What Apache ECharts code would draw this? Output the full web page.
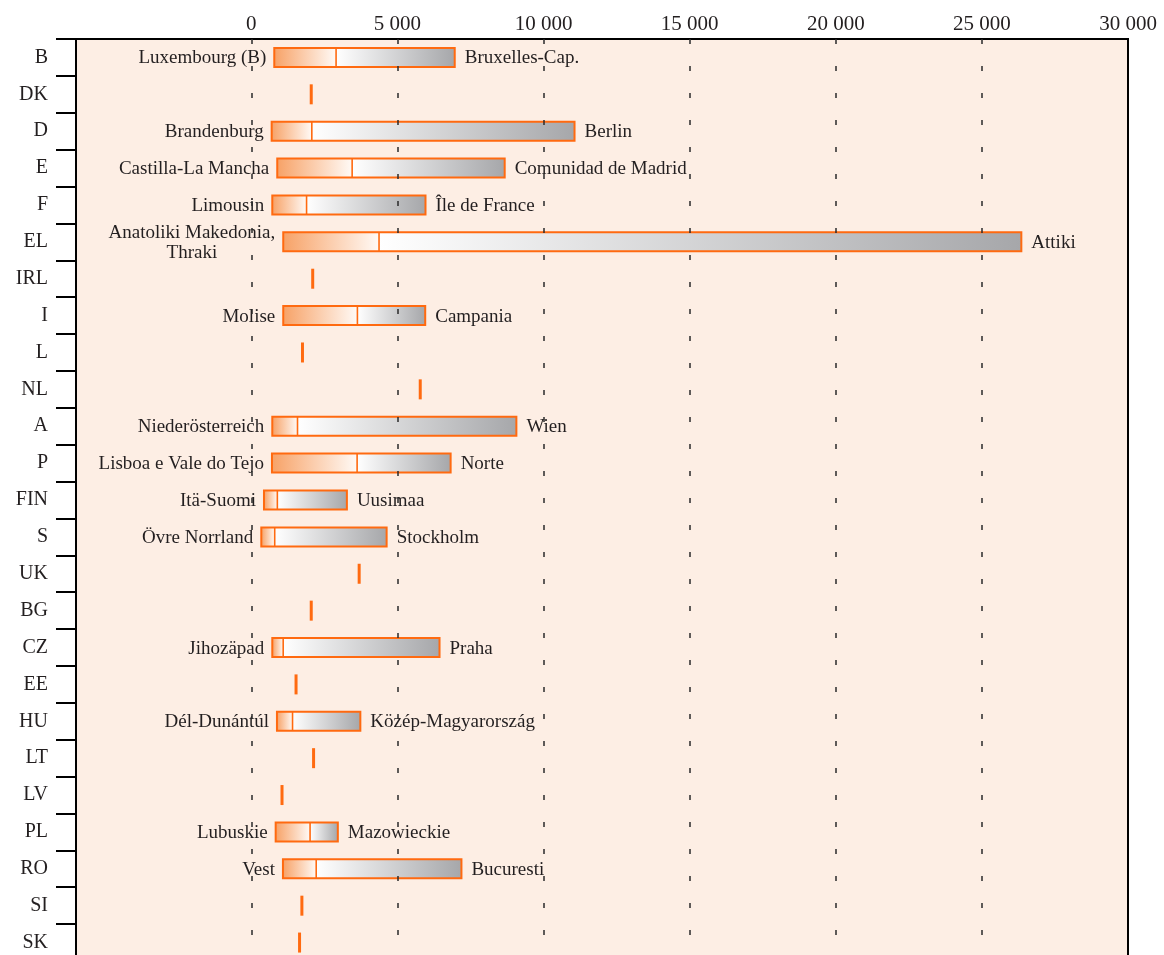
<!DOCTYPE html>
<html>
<head>
<meta charset="utf-8">
<script src="https://cdn.jsdelivr.net/npm/echarts@6/dist/echarts.min.js"></script>
<style>
  html, body { margin: 0; padding: 0; background: #ffffff; }
  #chart { width: 1164px; height: 955px; }
</style>
</head>
<body>
<div id="chart"></div>
<script>
// Regional spread per country: lowest region, national level, highest region
const categories = ['B', 'DK', 'D', 'E', 'F', 'EL', 'IRL', 'I', 'L', 'NL', 'A', 'P', 'FIN', 'S', 'UK',
  'BG', 'CZ', 'EE', 'HU', 'LT', 'LV', 'PL', 'RO', 'SI', 'SK'];
const nationalValue = [2900, 2050, 2070, 3450, 1890, 4370, 2100, 3630, 1750, 5780, 1580, 3620, 890, 800, 3690,
  2050, 1090, 1530, 1410, 2130, 1050, 2010, 2220, 1730, 1650];
const lowestValue = [785, null, 696, 887, 717, 1092, null, 1092, null, null, 717, 706, 433, 341, null,
  null, 717, null, 877, null, null, 833, 1082, null, null];
const highestValue = [6960, null, 11060, 8670, 5960, 26350, null, 5950, null, null, 9070, 6820, 3270, 4630, null,
  null, 6440, null, 3730, null, null, 2960, 7190, null, null];
const lowestRegion = ['Luxembourg (B)', '', 'Brandenburg', 'Castilla-La Mancha', 'Limousin',
  'Anatoliki Makedonia,\nThraki', '', 'Molise', '', '', 'Niederösterreich', 'Lisboa e Vale do Tejo',
  'Itä-Suomi', 'Övre Norrland', '', '', 'Jihozäpad', '', 'Dél-Dunántúl', '', '', 'Lubuskie', 'Vest', '', ''];
const highestRegion = ['Bruxelles-Cap.', '', 'Berlin', 'Comunidad de Madrid', 'Île de France', 'Attiki', '',
  'Campania', '', '', 'Wien', 'Norte', 'Uusimaa', 'Stockholm', '', '', 'Praha', '', 'Közép-Magyarország',
  '', '', 'Mazowieckie', 'Bucuresti', '', ''];
const tickValues = [0, 5000, 10000, 15000, 20000, 25000, 30000];

const FONT = '"Liberation Serif", "Times New Roman", serif';
const TEXT_SIZE = 19;
const TEXT_COLOR = '#231f20';
const ORANGE = '#ff6a10';

const measureCtx = document.createElement('canvas').getContext('2d');
measureCtx.font = TEXT_SIZE + 'px ' + FONT;
function lineWidthMax(text) {
  return Math.max.apply(null, text.split('\n').map(s => measureCtx.measureText(s).width));
}

function fmt(v) {
  return String(v).replace(/\B(?=(\d{3})+(?!\d))/g, ' ');
}

const rows = categories.map((c, i) => [i, nationalValue[i], lowestValue[i], highestValue[i]]);

function renderItem(params, api) {
  const i = api.value(0);
  const nat = api.value(1);
  const low = lowestValue[i];
  const high = highestValue[i];
  const pNat = api.coord([nat, i]);
  const cy = pNat[1];
  const children = [];

  if (low == null || high == null) {
    const h = 20;
    children.push({
      type: 'line',
      shape: { x1: pNat[0], y1: cy - h / 2, x2: pNat[0], y2: cy + h / 2 },
      style: { stroke: ORANGE, lineWidth: 3 }
    });
    return { type: 'group', children: children };
  }

  const x0 = api.coord([low, i])[0];
  const x1 = pNat[0];
  const x2 = api.coord([high, i])[0];
  const bh = 19;
  const top = cy - bh / 2;

  children.push({
    type: 'rect',
    shape: { x: x0, y: top, width: x1 - x0, height: bh },
    style: {
      fill: { type: 'linear', x: 0, y: 0, x2: 1, y2: 0, global: false,
        colorStops: [{ offset: 0, color: '#f7a267' }, { offset: 1, color: '#fffaf6' }] }
    }
  });
  children.push({
    type: 'rect',
    shape: { x: x1, y: top, width: x2 - x1, height: bh },
    style: {
      fill: { type: 'linear', x: 0, y: 0, x2: 1, y2: 0, global: false,
        colorStops: [{ offset: 0, color: '#ffffff' }, { offset: 1, color: '#a6a7aa' }] }
    }
  });
  children.push({
    type: 'rect',
    shape: { x: x0, y: top, width: x2 - x0, height: bh },
    style: { fill: null, stroke: ORANGE, lineWidth: 2 }
  });
  children.push({
    type: 'line',
    shape: { x1: x1, y1: top, x2: x1, y2: top + bh },
    style: { stroke: ORANGE, lineWidth: 1.6 }
  });

  const leftText = lowestRegion[i];
  const multi = leftText.indexOf('\n') >= 0;
  const w = lineWidthMax(leftText);
  children.push({
    type: 'text',
    x: multi ? x0 - 8 - w / 2 : x0 - 8,
    y: cy + 1,
    style: {
      text: leftText,
      font: TEXT_SIZE + 'px ' + FONT,
      fill: TEXT_COLOR,
      align: multi ? 'center' : 'right',
      verticalAlign: 'middle',
      lineHeight: 20
    }
  });
  children.push({
    type: 'text',
    x: x2 + 10,
    y: cy + 1,
    style: {
      text: highestRegion[i],
      font: TEXT_SIZE + 'px ' + FONT,
      fill: TEXT_COLOR,
      align: 'left',
      verticalAlign: 'middle'
    }
  });
  return { type: 'group', children: children };
}

const chart = echarts.init(document.getElementById('chart'), null, { renderer: 'canvas' });

chart.setOption({
  animation: false,
  backgroundColor: '#ffffff',
  grid: {
    show: true,
    left: 76,
    right: 36,
    top: 39,
    height: 922,
    outerBoundsMode: 'none',
    backgroundColor: '#fdeee4',
    borderColor: '#000000',
    borderWidth: 2
  },
  xAxis: {
    type: 'value',
    position: 'top',
    min: -6000,
    max: 30000,
    interval: 1000,
    axisLine: { show: true, onZero: false, lineStyle: { color: '#000000', width: 2 } },
    axisTick: { show: false },
    splitLine: { show: false },
    axisLabel: {
      margin: 4,
      fontFamily: FONT,
      fontSize: 21,
      color: TEXT_COLOR,
      formatter: v => (tickValues.indexOf(v) >= 0 ? fmt(v) : '')
    }
  },
  yAxis: {
    type: 'category',
    position: 'left',
    data: categories,
    inverse: true,
    axisLine: { show: true, onZero: false, lineStyle: { color: '#000000', width: 2 } },
    axisTick: { show: true, inside: false, length: 20, lineStyle: { color: '#000000', width: 2 } },
    axisLabel: {
      margin: 28,
      fontFamily: FONT,
      fontSize: 20,
      color: TEXT_COLOR
    },
    splitLine: { show: false }
  },
  series: [
    {
      type: 'line',
      data: [],
      z: 1,
      silent: true,
      markLine: {
        silent: true,
        symbol: 'none',
        label: { show: false },
        lineStyle: { color: '#2a2a2a', width: 1.5, type: [5, 22], dashOffset: 0 },
        data: tickValues.filter(v => v < 30000).map(v => ({ xAxis: v }))
      }
    },
    {
      type: 'custom',
      z: 3,
      renderItem: renderItem,
      encode: { x: [1, 2, 3], y: 0 },
      data: rows
    }
  ]
});
</script>
</body>
</html>
